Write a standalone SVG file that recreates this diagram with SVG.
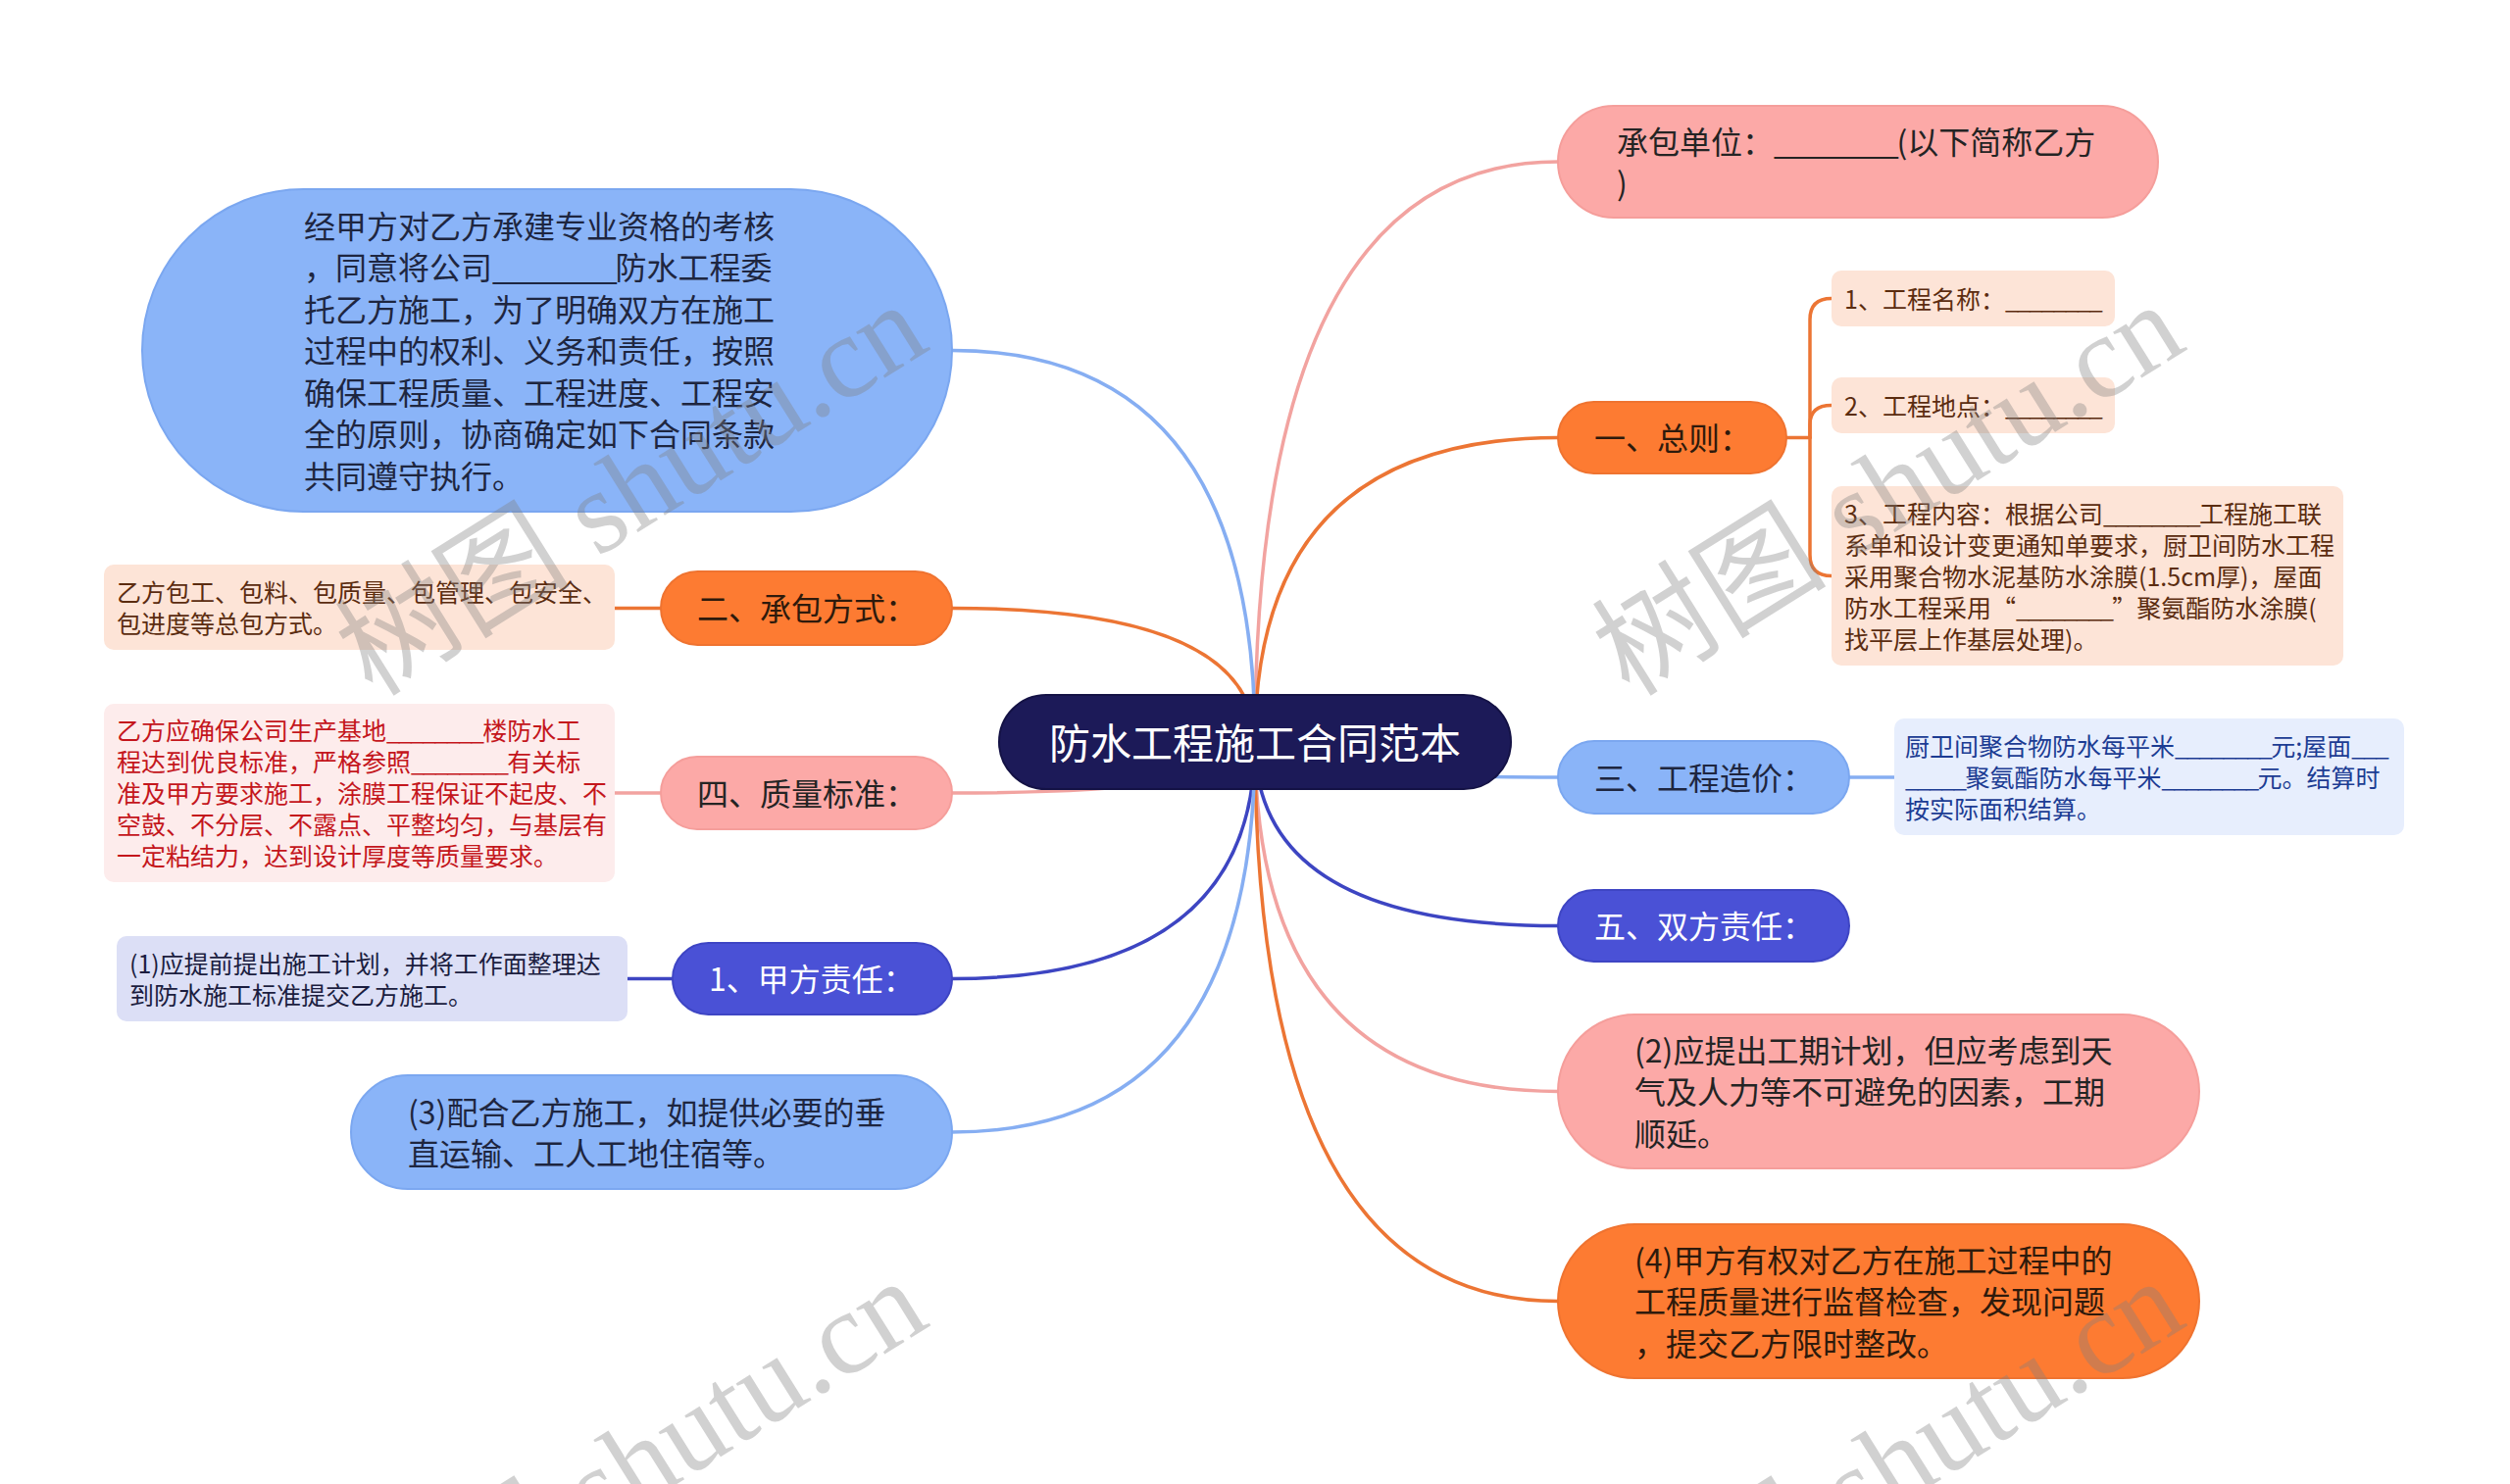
<svg xmlns="http://www.w3.org/2000/svg" width="2560" height="1514" viewBox="0 0 2560 1514">
<style>
text{font-family:"Noto Sans CJK SC","Noto Sans",sans-serif;dominant-baseline:central}
.t32{font-size:32px}
.t25{font-size:25px}
.t42{font-size:42px;fill:#ffffff}
.u32{letter-spacing:-2.2px}
.u25{letter-spacing:-1.7px}
.central{fill:#1c1a58;stroke:#141245;stroke-width:2}
.pink{fill:#fca9a7;stroke:#f59e9b;stroke-width:2}
.orange{fill:#fd7b32;stroke:#ef7330;stroke-width:2}
.lblue{fill:#8ab4f8;stroke:#7ba7f0;stroke-width:2}
.blue{fill:#4a51d6;stroke:#3e45c4;stroke-width:2}
.peach{fill:#fde4d7}
.rose{fill:#fdecec}
.ice{fill:#e7eefd}
.lav{fill:#dcdff6}
.dk{fill:#242424}
.dko{fill:#2e1a0c}
.dkb{fill:#1e2640}
.wh{fill:#ffffff}
.brown{fill:#5b2c10}
.red{fill:#c4161c}
.navy{fill:#1c3c93}
.ink{fill:#1b1d3f}
.conn path{fill:none;stroke-width:3.5;stroke-linecap:round}
.c-pink{stroke:#f2a3a0}
.c-orange{stroke:#ec7534}
.c-lblue{stroke:#86aef2}
.c-blue{stroke:#3d45c2}
.wm{font-family:"Liberation Serif","Noto Sans CJK SC",serif;font-size:120px;fill:#808080;fill-opacity:0.36;dominant-baseline:alphabetic}
</style>
<rect x="0" y="0" width="2560" height="1514" fill="#ffffff"/>

<g id="connectors" class="conn">
  <path class="c-pink" d="M1280 757 Q1280 165 1589 165"/>
  <path class="c-orange" d="M1280 757 Q1280 446.5 1589 446.5"/>
  <path class="c-lblue" d="M1280 757 Q1280 793 1589 793"/>
  <path class="c-blue" d="M1280 757 Q1280 944.5 1589 944.5"/>
  <path class="c-pink" d="M1280 757 Q1280 1113.5 1589 1113.5"/>
  <path class="c-orange" d="M1280 757 Q1280 1327.5 1589 1327.5"/>
  <path class="c-lblue" d="M1280 757 Q1280 357.5 971 357.5"/>
  <path class="c-orange" d="M1280 757 Q1280 620.5 971 620.5"/>
  <path class="c-pink" d="M1280 757 Q1280 809 971 809"/>
  <path class="c-blue" d="M1280 757 Q1280 998.5 971 998.5"/>
  <path class="c-lblue" d="M1280 757 Q1280 1155 971 1155"/>
  <path class="c-orange" d="M1822 446.5 L1846 446.5"/>
  <path class="c-orange" d="M1846 446.5 L1846 326 Q1846 304.5 1868 304.5"/>
  <path class="c-orange" d="M1846 446.5 L1846 433 Q1846 413.5 1868 413.5"/>
  <path class="c-orange" d="M1846 446.5 L1846 566 Q1846 587.5 1868 587.5"/>
  <path class="c-lblue" d="M1886 793 L1932 793"/>
  <path class="c-orange" d="M674 620.5 L627 620.5"/>
  <path class="c-pink" d="M674 809 L627 809"/>
  <path class="c-blue" d="M686 998.5 L640 998.5"/>
</g>

<g id="node-root">
  <rect class="central" x="1019" y="709" width="522" height="96" rx="48"/>
  <text class="t42" x="1280" y="755" text-anchor="middle">防水工程施工合同范本</text>
</g>

<g id="node-chengbao-danwei">
  <rect class="pink" x="1589" y="108" width="612" height="114" rx="57"/>
  <text class="t32 dk" x="1649" y="142.5">承包单位：<tspan class="u32">________</tspan>(以下简称乙方</text>
  <text class="t32 dk" x="1649" y="185">)</text>
</g>

<g id="node-zongze">
  <rect class="orange" x="1589" y="410" width="233" height="73" rx="36.5"/>
  <text class="t32 dko" x="1626" y="445">一、总则：</text>
</g>
<g id="node-gongcheng-mingcheng">
  <rect class="peach" x="1868" y="276" width="289" height="57" rx="10"/>
  <text class="t25 brown" x="1881" y="303.5">1、工程名称：<tspan class="u25">________</tspan></text>
</g>
<g id="node-gongcheng-didian">
  <rect class="peach" x="1868" y="385" width="289" height="57" rx="10"/>
  <text class="t25 brown" x="1881" y="412.5">2、工程地点：<tspan class="u25">________</tspan></text>
</g>
<g id="node-gongcheng-neirong">
  <rect class="peach" x="1868" y="496" width="522" height="183" rx="10"/>
  <text class="t25 brown" x="1881" y="522.5">3、工程内容：根据公司<tspan class="u25">________</tspan>工程施工联</text>
  <text class="t25 brown" x="1881" y="554.5">系单和设计变更通知单要求，厨卫间防水工程</text>
  <text class="t25 brown" x="1881" y="586.5">采用聚合物水泥基防水涂膜(1.5cm厚)，屋面</text>
  <text class="t25 brown" x="1881" y="618.5">防水工程采用“<tspan class="u25">________</tspan>”聚氨酯防水涂膜(</text>
  <text class="t25 brown" x="1881" y="650.5">找平层上作基层处理)。</text>
</g>

<g id="node-zaojia">
  <rect class="lblue" x="1589" y="756" width="297" height="74" rx="37"/>
  <text class="t32 dkb" x="1626" y="791.5">三、工程造价：</text>
</g>
<g id="node-zaojia-detail">
  <rect class="ice" x="1932" y="733" width="520" height="119" rx="10"/>
  <text class="t25 navy" x="1943" y="759.5">厨卫间聚合物防水每平米<tspan class="u25">________</tspan>元;屋面<tspan class="u25">___</tspan></text>
  <text class="t25 navy" x="1943" y="791.5"><tspan class="u25">_____</tspan>聚氨酯防水每平米<tspan class="u25">________</tspan>元。结算时</text>
  <text class="t25 navy" x="1943" y="823.5">按实际面积结算。</text>
</g>

<g id="node-shuangfang">
  <rect class="blue" x="1589" y="908" width="297" height="73" rx="36.5"/>
  <text class="t32 wh" x="1626" y="943">五、双方责任：</text>
</g>

<g id="node-yifang-2">
  <rect class="pink" x="1589" y="1035" width="654" height="157" rx="78.5"/>
  <text class="t32 dk" x="1667" y="1069.5">(2)应提出工期计划，但应考虑到天</text>
  <text class="t32 dk" x="1667" y="1112">气及人力等不可避免的因素，工期</text>
  <text class="t32 dk" x="1667" y="1154.5">顺延。</text>
</g>

<g id="node-jiafang-4">
  <rect class="orange" x="1589" y="1249" width="654" height="157" rx="78.5"/>
  <text class="t32 dko" x="1667" y="1283.5">(4)甲方有权对乙方在施工过程中的</text>
  <text class="t32 dko" x="1667" y="1326">工程质量进行监督检查，发现问题</text>
  <text class="t32 dko" x="1667" y="1368.5">，提交乙方限时整改。</text>
</g>

<g id="node-preamble">
  <rect class="lblue" x="145" y="193" width="826" height="329" rx="164.5"/>
  <text class="t32 dkb" x="310" y="228.5">经甲方对乙方承建专业资格的考核</text>
  <text class="t32 dkb" x="310" y="271">，同意将公司<tspan class="u32">________</tspan>防水工程委</text>
  <text class="t32 dkb" x="310" y="313.5">托乙方施工，为了明确双方在施工</text>
  <text class="t32 dkb" x="310" y="356">过程中的权利、义务和责任，按照</text>
  <text class="t32 dkb" x="310" y="398.5">确保工程质量、工程进度、工程安</text>
  <text class="t32 dkb" x="310" y="441">全的原则，协商确定如下合同条款</text>
  <text class="t32 dkb" x="310" y="483.5">共同遵守执行。</text>
</g>

<g id="node-chengbao-fangshi">
  <rect class="orange" x="674" y="583" width="297" height="75" rx="37.5"/>
  <text class="t32 dko" x="711" y="619">二、承包方式：</text>
</g>
<g id="node-chengbao-fangshi-detail">
  <rect class="peach" x="106" y="576" width="521" height="87" rx="10"/>
  <text class="t25 brown" x="119" y="602.5">乙方包工、包料、包质量、包管理、包安全、</text>
  <text class="t25 brown" x="119" y="634.5">包进度等总包方式。</text>
</g>

<g id="node-zhiliang">
  <rect class="pink" x="674" y="772" width="297" height="74" rx="37"/>
  <text class="t32 dk" x="711" y="807.5">四、质量标准：</text>
</g>
<g id="node-zhiliang-detail">
  <rect class="rose" x="106" y="718" width="521" height="182" rx="10"/>
  <text class="t25 red" x="119" y="744">乙方应确保公司生产基地<tspan class="u25">________</tspan>楼防水工</text>
  <text class="t25 red" x="119" y="776">程达到优良标准，严格参照<tspan class="u25">________</tspan>有关标</text>
  <text class="t25 red" x="119" y="808">准及甲方要求施工，涂膜工程保证不起皮、不</text>
  <text class="t25 red" x="119" y="840">空鼓、不分层、不露点、平整均匀，与基层有</text>
  <text class="t25 red" x="119" y="872">一定粘结力，达到设计厚度等质量要求。</text>
</g>

<g id="node-jiafang">
  <rect class="blue" x="686" y="962" width="285" height="73" rx="36.5"/>
  <text class="t32 wh" x="723" y="997">1、甲方责任：</text>
</g>
<g id="node-jiafang-1">
  <rect class="lav" x="119" y="955" width="521" height="87" rx="10"/>
  <text class="t25 ink" x="132" y="981.5">(1)应提前提出施工计划，并将工作面整理达</text>
  <text class="t25 ink" x="132" y="1013.5">到防水施工标准提交乙方施工。</text>
</g>

<g id="node-jiafang-3">
  <rect class="lblue" x="358" y="1097" width="613" height="116" rx="58"/>
  <text class="t32 dkb" x="416" y="1132.5">(3)配合乙方施工，如提供必要的垂</text>
  <text class="t32 dkb" x="416" y="1175">直运输、工人工地住宿等。</text>
</g>

<g id="watermarks">
  <text class="wm" x="380" y="712" transform="rotate(-32 380 712)">树图 shutu.cn</text>
  <text class="wm" x="1662" y="712" transform="rotate(-32 1662 712)">树图 shutu.cn</text>
  <text class="wm" x="380" y="1708" transform="rotate(-32 380 1708)">树图 shutu.cn</text>
  <text class="wm" x="1662" y="1708" transform="rotate(-32 1662 1708)">树图 shutu.cn</text>
</g>
</svg>
